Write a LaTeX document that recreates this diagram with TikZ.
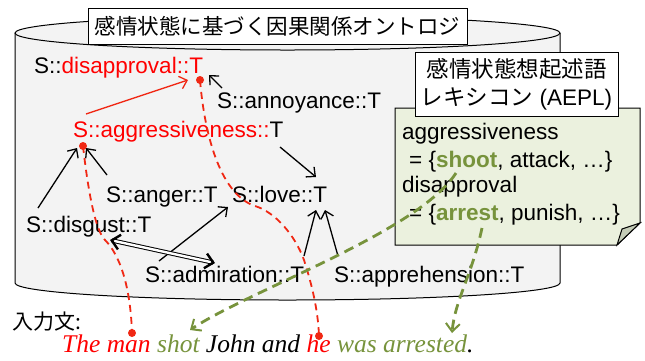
\documentclass[tikz,border=0pt]{standalone}
\usepackage{fontspec}
\setmainfont{Liberation Sans}
\newfontfamily\jp{Noto Sans CJK JP}
\newfontfamily\sent{Liberation Serif}
\usetikzlibrary{arrows.meta,calc}
\definecolor{cylfill}{RGB}{243,243,243}
\definecolor{lexfill}{RGB}{235,241,222}
\definecolor{foldfill}{RGB}{196,204,183}
\definecolor{olive}{RGB}{119,147,60}
\definecolor{rline}{RGB}{240,40,20}
\tikzset{
 lbl/.style={anchor=base west, inner sep=0, font=\fontsize{22.5}{27}\selectfont},
 arr/.style={line width=1.3pt, -{Straight Barb[length=7pt,width=13pt,line width=1.3pt]}},
 coref/.style={rline, line width=1.8pt, dash pattern=on 7pt off 5pt},
 evoke/.style={olive, line width=2.8pt, dash pattern=on 10pt off 6pt, -{Straight Barb[length=8pt,width=14pt,line width=2pt]}},
 dotc/.style={circle, fill=rline, inner sep=0, minimum size=8pt},
 boxed/.style={draw, fill=white, line width=1pt, inner sep=0},
 bigtip/.style={line width=2.4pt, -{Straight Barb[length=8pt,width=15pt,line width=2.4pt]}},
}
\begin{document}
\begin{tikzpicture}[x=1pt,y=-1pt]
\useasboundingbox (0,0) rectangle (645,360);
% cylinder
\fill[cylfill] (15,33) -- (15,283) .. controls (15,292.4) and (137,300) .. (287.5,300) .. controls (438,300) and (560,292.4) .. (560,283) -- (560,33) -- cycle;
\draw[line width=1pt] (15,33) -- (15,283) .. controls (15,292.4) and (137,300) .. (287.5,300) .. controls (438,300) and (560,292.4) .. (560,283) -- (560,33);
\draw[line width=1pt, fill=cylfill] (287.5,33) ellipse [x radius=272.5, y radius=17];
\node[boxed, minimum width=379pt, minimum height=36pt, font=\jp\fontsize{21.5}{26}\selectfont] (title) at (277.5,26) {感情状態に基づく因果関係オントロジ};
% concept nodes
\node[lbl] (disap) at (34,73) {S::\textcolor{red}{disapproval::T}};
\node[lbl] (annoy) at (217,108) {S::annoyance::T};
\node[lbl, red] (aggr) at (73,137) {S::aggressiveness::\textcolor{black}{T}};
\node[lbl] (anger) at (106,202) {S::anger::T};
\node[lbl] (love) at (232,202) {S::love::T};
\node[lbl] (disg) at (26,232) {S::disgust::T};
\node[lbl] (admir) at (145,282) {S::admiration::T};
\node[lbl] (appre) at (334,282) {S::apprehension::T};
% arrow end points
\coordinate (annoyS) at (222,88);   \coordinate (disapA) at (209,75);
\coordinate (aggrS) at (86,114);    \coordinate (disapB) at (188,80);
\coordinate (disgS) at (38,208);    \coordinate (aggrA) at (77,148);
\coordinate (angerS) at (107,175);  \coordinate (aggrB) at (86,148);
\coordinate (aggrT) at (280,147);   \coordinate (loveA) at (316,177);
\coordinate (admirS) at (159,261);  \coordinate (loveB) at (228,207);
\coordinate (admirT) at (304,256);  \coordinate (loveC) at (316,210);
\coordinate (appreS) at (338,256);  \coordinate (loveD) at (325,210);
\coordinate (disgD) at (110,240);   \coordinate (admirD) at (215,263);
\draw[arr] (annoyS) -- (disapA);
\draw[arr, rline] (aggrS) -- (disapB);
\draw[arr] (disgS) -- (aggrA);
\draw[arr] (angerS) -- (aggrB);
\draw[arr] (aggrT) -- (loveA);
\draw[arr] (admirS) -- (loveB);
\draw[arr] (admirT) -- (loveC);
\draw[arr] (appreS) -- (loveD);
\draw[double, double distance=2.4pt, line width=1pt, shorten <=2pt, shorten >=2pt] (disgD) -- (admirD);
\draw[bigtip] ($(disgD)!3pt!(admirD)$) -- (disgD);
\draw[bigtip] ($(admirD)!3pt!(disgD)$) -- (admirD);
% bottom text
\node[anchor=west, inner sep=0, font=\jp\fontsize{21}{25}\selectfont] (input) at (12,322) {入力文:};
\node[anchor=base west, inner sep=0, font=\sent\itshape\fontsize{25.5}{30}\selectfont] (sent) at (62,352) {\textcolor{red}{The man} \textcolor{olive}{shot} John and \textcolor{red}{he} \textcolor{olive}{was arrested}.};
% coreference dots and lines
\node[dotc] (d1) at (83,146) {};
\node[dotc] (d2) at (132,333) {};
\node[dotc] (d3) at (200,80) {};
\node[dotc] (d4) at (319,336) {};
\draw[coref] (d1.center) .. controls (88,190) and (95,230) .. (105,240) .. controls (115,250) and (130,275) .. (d2.center);
\draw[coref] (d3.center) .. controls (205,140) and (222,195) .. (255,206) .. controls (275,212) and (295,235) .. (304,260) .. controls (312,285) and (318,310) .. (d4.center);
% lexicon
\path[draw, line width=1pt, fill=lexfill] (395,108) -- (640,108) -- (640,223) -- (617,245) -- (395,245) -- cycle;
\path[draw, line width=1pt, fill=foldfill] (640,223) -- (622,229) -- (617,245) -- cycle;
\node[boxed, minimum width=203pt, minimum height=64pt, align=center, font=\fontsize{22.5}{28}\selectfont] (lextitle) at (516.5,84) {{\jp 感情状態想起述語}\\{\jp レキシコン} (AEPL)};
\node[lbl] (l1) at (402,139) {aggressiveness};
\node[lbl] (l2) at (409,167) {= \{\textcolor{olive}{\textbf{shoot}}, attack, \dots\}};
\node[lbl] (l3) at (402,192) {disapproval};
\node[lbl] (l4) at (409,220) {= \{\textcolor{olive}{\textbf{arrest}}, punish, \dots\}};
% evocation arrows
\coordinate (shootP) at (456,173);
\coordinate (shotP) at (190,330);
\coordinate (arrestP) at (482,228);
\coordinate (arrestedP) at (452,333);
\draw[evoke] (shootP) .. controls (418,232) and (250,290) .. (shotP);
\draw[evoke] (arrestP) .. controls (472,275) and (455,300) .. (arrestedP);
\end{tikzpicture}
\end{document}
